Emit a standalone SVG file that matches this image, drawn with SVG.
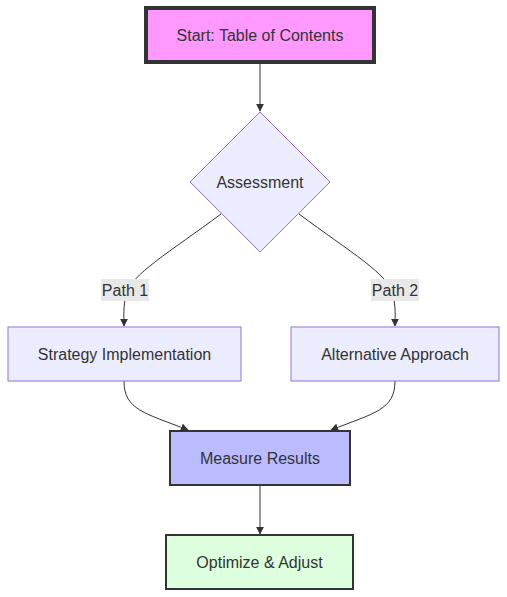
<svg xmlns="http://www.w3.org/2000/svg" width="507" height="597" viewBox="0 0 507 597">
<defs>
<style>
text{font-family:"Liberation Sans",Arial,sans-serif;font-size:16px;fill:#333;text-anchor:middle;dominant-baseline:central}
.edge{fill:none;stroke:#333;stroke-width:1}
.def{fill:#ececff;stroke:#9370db;stroke-width:1}
.lbl{fill:#e8e8e8}
</style>
<marker id="arr" viewBox="0 0 10 10" refX="9" refY="5" markerWidth="8" markerHeight="8" markerUnits="userSpaceOnUse" orient="auto"><path d="M0,0 L10,5 L0,10 z" fill="#333"/></marker>
</defs>
<rect width="507" height="597" fill="#fff"/>
<g id="edges">
<path class="edge" d="M260,62 L260,111" marker-end="url(#arr)"/>
<path class="edge" d="M221,214 C170,252 130,275 126,295 C123,308 124,316 124,326" marker-end="url(#arr)"/>
<path class="edge" d="M299,214 C350,252 390,275 393,295 C396,308 395,316 395,326" marker-end="url(#arr)"/>
<path class="edge" d="M124,381 C124,410 145,413 188,430" marker-end="url(#arr)"/>
<path class="edge" d="M395,381 C395,410 374,413 331,430" marker-end="url(#arr)"/>
<path class="edge" d="M260,485 L260,534" marker-end="url(#arr)"/>
</g>
<g id="label-path1"><rect class="lbl" x="101" y="279" width="48" height="22"/><text x="125" y="290">Path 1</text></g>
<g id="label-path2"><rect class="lbl" x="371" y="279" width="48" height="22"/><text x="395" y="290">Path 2</text></g>
<g id="start"><rect x="146" y="8" width="228" height="54" fill="#f9f" stroke="#333" stroke-width="4"/><text x="260" y="35">Start: Table of Contents</text></g>
<g id="assessment"><polygon class="def" points="260,112 330,182 260,252 190,182"/><text x="260" y="182">Assessment</text></g>
<g id="strategy"><rect class="def" x="8" y="327" width="233" height="54"/><text x="124.5" y="354">Strategy Implementation</text></g>
<g id="alternative"><rect class="def" x="291" y="327" width="208" height="54"/><text x="395" y="354">Alternative Approach</text></g>
<g id="measure"><rect x="170" y="431" width="180" height="54" fill="#bbf" stroke="#333" stroke-width="2"/><text x="260" y="458">Measure Results</text></g>
<g id="optimize"><rect x="166" y="535" width="187" height="54" fill="#dfd" stroke="#333" stroke-width="2"/><text x="259.5" y="562">Optimize &amp; Adjust</text></g>
</svg>
